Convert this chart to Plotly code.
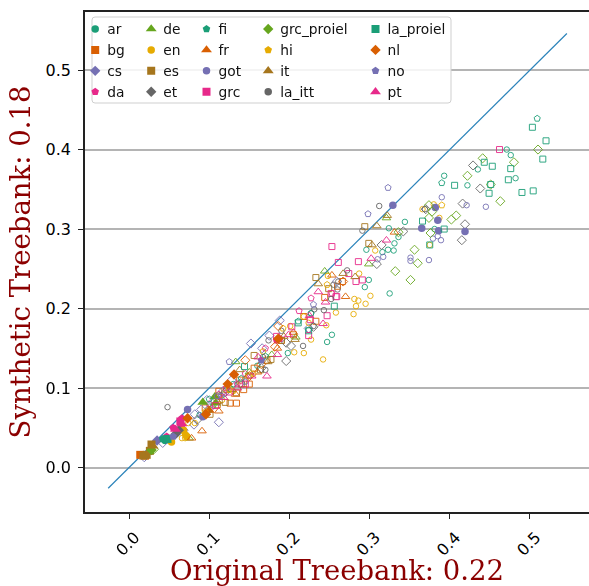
import plotly.graph_objects as go

# ---- data: (original, synthetic) values ----
ar = [(.471,.400),(.476,.393),(.482,.364),(.435,.375),(.422,.355),(.393,.367),(.344,.309),(.324,.301),(.381,.300),
      (.336,.290),(.331,.282),(.323,.274),(.330,.273),(.316,.271),(.299,.236),(.294,.227),(.325,.219),(.296,.274),
      (.253,.167),(.247,.158),(.198,.144),(.227,.194),(.224,.173),(.130,.105),(.105,.078),(.088,.066),(.160,.128),(.118,.092)]
ar_f = [(.045,.034)]
bg = [(.244,.214),(.266,.234),(.260,.228),(.205,.167),(.218,.190),(.233,.184),(.126,.081),(.134,.081),(.143,.098),
      (.112,.096),(.110,.079),(.150,.105),(.172,.135),(.190,.160),(.156,.125),(.122,.098),(.138,.110),(.095,.075)]
bg_f = [(.014,.016),(.020,.015)]
cs = [(.188,.185),(.152,.156),(.175,.166),(.224,.175),(.259,.234),(.090,.073),(.082,.067),(.097,.085),(.081,.054),
      (.101,.075),(.042,.031),(.117,.096),(.112,.057),(.128,.110),(.166,.150),(.019,.013),(.068,.047),(.108,.088)]
cs_f = [(.035,.034)]
da = [(.227,.213),(.253,.219),(.212,.197),(.145,.118),(.121,.100),(.100,.080),(.170,.150),(.135,.105),(.112,.092)]
da_f = [(.066,.062),(.055,.050),(.066,.053),(.047,.039),(.184,.160),(.188,.162)]
de = [(.244,.247),(.321,.314),(.299,.256),(.133,.133),(.178,.142),(.208,.164),(.075,.037),(.150,.120),(.128,.098)]
de_f = [(.092,.082),(.107,.089),(.108,.081),(.045,.035)]
en = [(.366,.325),(.380,.331),(.387,.314),(.307,.273),(.375,.280),(.287,.244),(.301,.216),(.281,.212),(.286,.210),
      (.283,.203),(.295,.206),(.280,.193),(.258,.195),(.246,.179),(.227,.161),(.242,.136),(.218,.144),(.206,.145),
      (.167,.146),(.224,.182),(.201,.178),(.218,.190),(.248,.241),(.066,.037),(.070,.037),(.082,.056),(.074,.056),(.116,.085),
      (.130,.096),(.155,.118)]
en_f = [(.053,.032),(.072,.039),(.068,.047)]
es = [(.294,.303),(.299,.282),(.233,.239),(.249,.225),(.156,.141),(.177,.136),(.164,.123),(.134,.094),(.101,.067),
      (.120,.082),(.140,.105),(.112,.090),(.190,.160)]
es_f = [(.018,.015),(.022,.016),(.028,.029),(.026,.021)]
et = [(.429,.380),(.438,.351),(.416,.332),(.419,.306),(.415,.286),(.370,.325),(.342,.297),(.315,.280),(.309,.256),
      (.196,.134),(.202,.153),(.196,.157),(.230,.177),(.085,.060),(.139,.106),(.165,.125),(.120,.095)]
et_f = [(.058,.042),(.062,.047)]
fi = [(.509,.439),(.390,.358),(.211,.184),(.227,.194),(.170,.140),(.140,.112),(.100,.086)]
fi_f = [(.042,.036)]
fr = [(.331,.296),(.270,.215),(.253,.242),(.091,.046),(.112,.071),(.133,.092),(.078,.037),(.185,.150),(.205,.170),(.160,.120)]
fr_f = [(.100,.072)]
got = [(.390,.340),(.421,.330),(.445,.328),(.385,.291),(.379,.288),(.389,.286),(.374,.261),(.351,.264),(.351,.260),
       (.317,.265),(.310,.262),(.145,.108),(.115,.090)]
got_f = [(.329,.330),(.382,.327),(.385,.311),(.365,.301),(.386,.298),(.419,.297),(.073,.073),(.092,.064)]
grc = [(.462,.400),(.253,.278),(.261,.258),(.286,.259),(.274,.244),(.283,.234),(.291,.236),(.258,.215),(.224,.166),
       (.247,.191),(.226,.186),(.203,.177),(.184,.165),(.259,.215),(.252,.219),(.145,.105),(.125,.095),(.108,.078)]
grc_f = [(.064,.058)]
grc_proiel = [(.510,.400),(.480,.384),(.441,.389),(.422,.367),(.451,.356),(.463,.335),(.408,.317),(.402,.312),(.374,.330),
              (.378,.322),(.374,.314),(.376,.295),(.356,.274),(.360,.257),(.332,.247),(.351,.236),(.031,.023),(.336,.296)]
grc_proiel_f = [(.028,.022)]
hi = [(.390,.330),(.247,.230),(.192,.175),(.150,.115),(.125,.098),(.095,.070)]
hi_f = [(.070,.042)]
it = [(.322,.317),(.309,.304),(.303,.280),(.236,.231),(.267,.244),(.282,.240),(.173,.133),(.138,.123),(.148,.115),
      (.193,.165),(.207,.161),(.110,.083),(.098,.072)]
it_f = [(.030,.027)]
la_itt = [(.312,.329),(.291,.298),(.369,.325),(.272,.248),(.243,.198),(.231,.199),(.217,.153),(.174,.160),(.190,.172),
          (.255,.230),(.260,.224),(.252,.212),(.261,.234),(.230,.178),(.170,.123),(.167,.139),(.048,.076)]
la_itt_f = [(.060,.045)]
la_proiel = [(.503,.428),(.520,.411),(.516,.388),(.476,.376),(.453,.379),(.443,.384),(.473,.362),(.490,.346),(.504,.348),
             (.451,.356),(.449,.345),(.406,.355),(.366,.310),(.393,.300),(.375,.280),(.144,.127),(.211,.182),(.256,.203),(.224,.172)]
la_proiel_f = [(.048,.036)]
nl = [(.186,.178),(.145,.135),(.182,.152),(.267,.234),(.150,.115),(.165,.130)]
nl_f = [(.131,.117),(.186,.162),(.123,.105),(.073,.062),(.096,.067)]
no = [(.323,.352),(.298,.319),(.125,.133),(.230,.205),(.110,.090)]
no_f = [(.165,.135),(.055,.039)]
pt = [(.321,.286),(.302,.263),(.236,.221),(.245,.208),(.225,.191),(.242,.181),(.185,.142),(.161,.139),(.199,.167),
      (.172,.115),(.153,.115),(.135,.100),(.118,.088)]
pt_f = [(.066,.055),(.058,.048)]

languages = ["ar","bg","cs","da","de","en","es","et","fi","fr","got","grc","grc_proiel","hi","it","la_itt","la_proiel","nl","no","pt"]
hollow_sets = [ar,bg,cs,da,de,en,es,et,fi,fr,got,grc,grc_proiel,hi,it,la_itt,la_proiel,nl,no,pt]
filled_sets = [ar_f,bg_f,cs_f,da_f,de_f,en_f,es_f,et_f,fi_f,fr_f,got_f,grc_f,grc_proiel_f,hi_f,it_f,la_itt_f,la_proiel_f,nl_f,no_f,pt_f]
identity_line = [-0.026, 0.546]
y_ticks = [0.0, 0.1, 0.2, 0.3, 0.4, 0.5]
x_title = "Original Treebank: 0.22"
y_title = "Synthetic Treebank: 0.18"

# ---- style ----
palette = ["#1b9e77","#d95f02","#7570b3","#e7298a","#66a61e","#e6ab02","#a6761d","#666666"]
symbols = ["circle","square","diamond","pentagon","triangle-up"]
W, H = 589, 586
L, R, T, B = 85, 589, 12, 512
px = lambda v: (v - L) / (R - L)
py = lambda v: (B - v) / (B - T)

fig = go.Figure()
fig.add_trace(go.Scatter(x=identity_line, y=identity_line, mode="lines", showlegend=False,
                         line=dict(color="#2b83ba", width=1.2), hoverinfo="skip"))

for i, (name, pts, fpts) in enumerate(zip(languages, hollow_sets, filled_sets)):
    col = palette[i % len(palette)]
    sym = symbols[i % len(symbols)]
    size = {"circle": 5.5, "square": 6, "diamond": 7, "pentagon": 6.5, "triangle-up": 7.5}[sym]
    fsize = {"circle": 7.5, "square": 8, "diamond": 8, "pentagon": 8, "triangle-up": 9.5}[sym]
    leg = "legend" if i // 4 == 0 else f"legend{i // 4 + 1}"
    fig.add_trace(go.Scatter(x=[p[0] for p in pts], y=[p[1] for p in pts], mode="markers", name=name,
                             showlegend=False, legend=leg, opacity=0.9,
                             marker=dict(symbol=sym + "-open", size=size, color=col, line=dict(width=1, color=col))))
    fig.add_trace(go.Scatter(x=[p[0] for p in fpts], y=[p[1] for p in fpts], mode="markers", name=name,
                             legend=leg, marker=dict(symbol=sym, size=fsize, color=col, line=dict(width=0))))

legend_cols = [67.2, 123.2, 178.5, 240.2, 347.5]
legends = {}
for c, lx in enumerate(legend_cols):
    key = "legend" if c == 0 else f"legend{c + 1}"
    legends[key] = dict(x=px(lx), y=py(13.5), xanchor="left", yanchor="top", bgcolor="rgba(0,0,0,0)",
                        borderwidth=0, font=dict(family="DejaVu Sans", size=13.8, color="#111"),
                        itemclick=False, itemdoubleclick=False, tracegroupgap=0)

x0, x1, y0, y1 = px(92), px(451), py(103), py(17)
rx, ry = 3 / (R - L), 3 / (B - T)
box = (f"M {x0+rx},{y0} L {x1-rx},{y0} Q {x1},{y0} {x1},{y0+ry} L {x1},{y1-ry} Q {x1},{y1} {x1-rx},{y1} "
       f"L {x0+rx},{y1} Q {x0},{y1} {x0},{y1-ry} L {x0},{y0+ry} Q {x0},{y0} {x0+rx},{y0} Z")

axis_common = dict(showline=True, linecolor="#222", linewidth=1.6, ticks="outside", ticklen=5, tickwidth=1,
                   tickcolor="#222", zeroline=False, tickfont=dict(family="DejaVu Sans", size=16, color="#000"),
                   tickvals=y_ticks, tickformat=".1f")
title_font = dict(family="DejaVu Serif", size=27.5, color="#8b0000")

fig.update_layout(
    width=W, height=H, margin=dict(l=L, r=W - R, t=T, b=H - B, pad=0, autoexpand=False),
    paper_bgcolor="white", plot_bgcolor="white", hovermode="closest",
    xaxis=dict(axis_common, range=[-0.0549, 0.5736], showgrid=False, tickangle=-45, mirror=True,
               ticklabelshift=6, ticklabelstandoff=3,
               title=dict(text=x_title, font=title_font, standoff=0)),
    yaxis=dict(axis_common, range=[-0.0559, 0.573], showgrid=True, gridcolor="#b4b4b4", gridwidth=1.5,
               ticklabelstandoff=4,
               title=dict(text=y_title, font=title_font, standoff=7)),
    shapes=[dict(type="path", xref="paper", yref="paper", path=box, layer="above",
                 fillcolor="rgba(255,255,255,0.85)", line=dict(color="#cfcfcf", width=1))],
    **legends,
)

# Remove the page margin; tighten the gap between legend symbols and their labels, as in the reference.
post = """
document.body.style.margin='0';
document.querySelectorAll('.legendsymbols').forEach(function(e){e.setAttribute('transform','translate(8,0)');});
"""
fig.write_html("out.html", post_script=post, config={"displayModeBar": False})
